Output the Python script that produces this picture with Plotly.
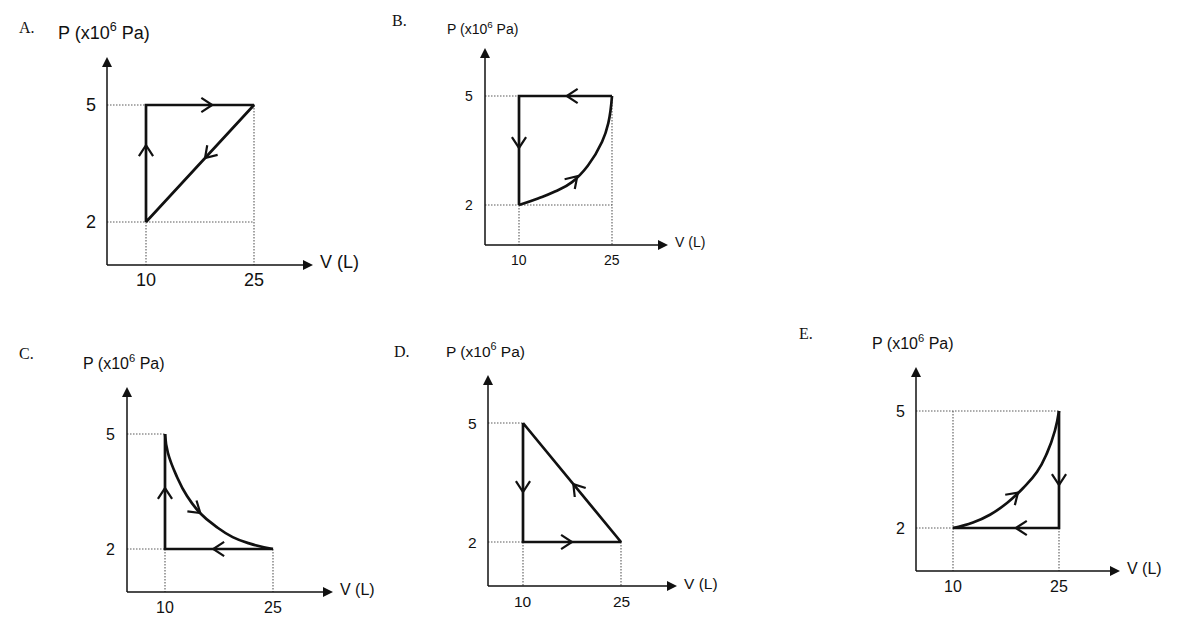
import math
import plotly.graph_objects as go

# ---------------- data ----------------
panel_letters = ["A.", "B.", "C.", "D.", "E."]
v_ticks = [10, 25]
p_ticks = [2, 5]
p_label = "P (x10<sup>6</sup> Pa)"
v_label = "V (L)"

# A: straight cycle
A_V = [10, 10, 25, 10]
A_P = [2, 5, 5, 2]
# B: straight part + curve
B_V = [25, 10, 10]
B_P = [5, 5, 2]
B_curve_V = [10, 13.06, 15.8, 18.55, 21.1, 23.4, 24.4, 25]
B_curve_P = [2, 2.18, 2.37, 2.63, 3.08, 3.74, 4.25, 5]
# C: straight part + curve
C_V = [25, 10, 10]
C_P = [2, 2, 5]
C_curve_V = [10, 10.4, 11.67, 13.06, 14.86, 17.2, 19.4, 21.8, 25]
C_curve_P = [5, 4.51, 3.88, 3.38, 2.94, 2.57, 2.31, 2.14, 2]
# D: straight cycle
D_V = [10, 10, 25, 10]
D_P = [5, 2, 2, 5]
# E: straight part + curve
E_V = [25, 25, 10]
E_P = [5, 2, 2]
E_curve_V = [10, 12.83, 15.23, 17.64, 19.9, 21.9, 23.3, 24.43, 25]
E_curve_P = [2, 2.14, 2.34, 2.64, 3.02, 3.44, 3.92, 4.50, 5]

# direction arrow tips (V, P)
A_arrows = [(10, 3.97), (19.2, 5), (18.2, 3.64)]
B_arrows = [(17.7, 5), (10, 3.57), (19.4, 2.79)]
C_arrows = [(10, 3.59), (14.9, 2.94), (16.7, 2)]
D_arrows = [(10, 3.26), (17.5, 2), (17.7, 3.46)]
E_arrows = [(25, 3.1), (18.9, 2), (19.2, 2.91)]

# dotted guides: horizontal (P, V_end) from the P axis; vertical (V, P_start) down to the V axis
A_hguides = [(5, 10), (2, 25)]
A_vguides = [(10, 2), (25, 5)]
B_hguides = [(5, 10), (2, 25)]
B_vguides = [(10, 2), (25, 5)]
C_hguides = [(5, 10), (2, 10)]
C_vguides = [(10, 2), (25, 2)]
D_hguides = [(5, 10), (2, 10)]
D_vguides = [(10, 2), (25, 2)]
E_hguides = [(5, 25), (2, 10)]
E_vguides = [(10, 5), (25, 2)]

# ---------------- layout (pixel geometry of each panel) ----------------
W, H = 1200, 630
LAYOUT = [
    dict(ox=107, oy=265, px10=146, px25=254, py2=222, py5=105, xend=313, ytop=57,
         letter=(27, 28), fs=18, pshift=25),
    dict(ox=485, oy=245, px10=519, px25=612, py2=205, py5=96, xend=668, ytop=48,
         letter=(399, 21), fs=14, pshift=20),
    dict(ox=127, oy=592, px10=165, px25=273, py2=549, py5=434, xend=333, ytop=387,
         letter=(26, 353), fs=16, pshift=25),
    dict(ox=488, oy=586, px10=523, px25=621, py2=542, py5=423, xend=677, ytop=375,
         letter=(402, 351), fs=15.5, pshift=25),
    dict(ox=916, oy=571, px10=953, px25=1059, py2=528, py5=411, xend=1120, ytop=367,
         letter=(806, 333), fs=16, pshift=25),
]

PANELS = [
    dict(pieces=[(A_V, A_P, "linear")], arrows=A_arrows, hg=A_hguides, vg=A_vguides),
    dict(pieces=[(B_V, B_P, "linear"), (B_curve_V, B_curve_P, "spline")], arrows=B_arrows,
         hg=B_hguides, vg=B_vguides),
    dict(pieces=[(C_V, C_P, "linear"), (C_curve_V, C_curve_P, "spline")], arrows=C_arrows,
         hg=C_hguides, vg=C_vguides),
    dict(pieces=[(D_V, D_P, "linear")], arrows=D_arrows, hg=D_hguides, vg=D_vguides),
    dict(pieces=[(E_V, E_P, "linear"), (E_curve_V, E_curve_P, "spline")], arrows=E_arrows,
         hg=E_hguides, vg=E_vguides),
]

SANS = "Liberation Sans, Arial, sans-serif"
SERIF = "Liberation Serif, Times New Roman, serif"
INK = "#111111"
GUIDE = "#5a5a5a"
LINE_W = 2.7
AXIS_W = 1.5
HEAD = 10
CHEV_LEN = 13
CHEV_ANG = math.radians(33)


def scales(s):
    sx = (s["px25"] - s["px10"]) / 15.0
    sy = (s["py2"] - s["py5"]) / 3.0
    return sx, sy


def v_of(s, px):
    sx, _ = scales(s)
    return 10 + (px - s["px10"]) / sx


def p_of(s, py):
    _, sy = scales(s)
    return 2 + (s["py2"] - py) / sy


def to_px(s, v, p):
    sx, sy = scales(s)
    return s["px10"] + (v - 10) * sx, s["py2"] - (p - 2) * sy


def chevron(s, pieces, tv, tp):
    tx, ty = to_px(s, tv, tp)
    best = None
    for V, P, _ in pieces:
        pts = [to_px(s, v, p) for v, p in zip(V, P)]
        for (x1, y1), (x2, y2) in zip(pts[:-1], pts[1:]):
            dx, dy = x2 - x1, y2 - y1
            l2 = dx * dx + dy * dy
            if l2 == 0:
                continue
            t = max(0.0, min(1.0, ((tx - x1) * dx + (ty - y1) * dy) / l2))
            d = (x1 + t * dx - tx) ** 2 + (y1 + t * dy - ty) ** 2
            if best is None or d < best[0]:
                best = (d, dx, dy)
    _, dx, dy = best
    n = math.hypot(dx, dy)
    ux, uy = dx / n, dy / n
    out = []
    for sgn in (1, -1):
        c, sn = math.cos(CHEV_ANG), math.sin(sgn * CHEV_ANG)
        rx, ry = ux * c - uy * sn, ux * sn + uy * c
        ax, ay = tx - CHEV_LEN * rx, ty - CHEV_LEN * ry
        out.append((v_of(s, ax), p_of(s, ay)))
    return [out[0], (tv, tp), out[1]]


fig = go.Figure()
annotations = []
layout_axes = {}

for i, (s, pd) in enumerate(zip(LAYOUT, PANELS)):
    k = "" if i == 0 else str(i + 1)
    xa, ya = "x" + k, "y" + k
    x_lo_px, x_hi_px = s["ox"] - 30, s["xend"] + 10
    y_lo_px, y_hi_px = s["oy"] + 30, s["ytop"] - 10
    layout_axes["xaxis" + k] = dict(
        domain=[x_lo_px / W, x_hi_px / W], range=[v_of(s, x_lo_px), v_of(s, x_hi_px)],
        anchor=ya, visible=False, fixedrange=True)
    layout_axes["yaxis" + k] = dict(
        domain=[1 - y_lo_px / H, 1 - y_hi_px / H], range=[p_of(s, y_lo_px), p_of(s, y_hi_px)],
        anchor=xa, visible=False, fixedrange=True)

    v0 = v_of(s, s["ox"])
    p0 = p_of(s, s["oy"])
    v_end = v_of(s, s["xend"])
    p_top = p_of(s, s["ytop"])

    # dotted guides
    gx, gy = [], []
    for p, vend in pd["hg"]:
        gx += [v0, vend, None]
        gy += [p, p, None]
    for v, pstart in pd["vg"]:
        gx += [v, v, None]
        gy += [pstart, p0, None]
    fig.add_trace(go.Scatter(x=gx, y=gy, mode="lines", xaxis=xa, yaxis=ya,
                             line=dict(color=GUIDE, width=1.1, dash="1.5px,1.5px"),
                             hoverinfo="skip"))

    # axes lines with arrow heads (tip of 'arrow-*' symbols sits on the point)
    v_base = v_of(s, s["xend"] - HEAD + 1)
    p_base = p_of(s, s["ytop"] + HEAD - 1)
    fig.add_trace(go.Scatter(x=[v0, v_base, None, v0, v0], y=[p0, p0, None, p0, p_base],
                             mode="lines", xaxis=xa, yaxis=ya,
                             line=dict(color=INK, width=AXIS_W), hoverinfo="skip"))
    fig.add_trace(go.Scatter(x=[v_end, v0], y=[p0, p_top], mode="markers", xaxis=xa, yaxis=ya,
                             marker=dict(symbol=["arrow-right", "arrow-up"], size=HEAD,
                                         color=INK, line=dict(width=0)),
                             cliponaxis=False, hoverinfo="skip"))

    # cycle path
    for V, P, shape in pd["pieces"]:
        fig.add_trace(go.Scatter(x=V, y=P, mode="lines", xaxis=xa, yaxis=ya,
                                 line=dict(color=INK, width=LINE_W, shape=shape,
                                           smoothing=1.3 if shape == "spline" else None),
                                 hoverinfo="skip"))

    # direction chevrons
    cx, cy = [], []
    for tv, tp in pd["arrows"]:
        for v, p in chevron(s, pd["pieces"], tv, tp):
            cx.append(v)
            cy.append(p)
        cx.append(None)
        cy.append(None)
    fig.add_trace(go.Scatter(x=cx, y=cy, mode="lines", xaxis=xa, yaxis=ya,
                             line=dict(color=INK, width=2.2), hoverinfo="skip"))

    font = dict(family=SANS, size=s["fs"], color=INK)
    for v in v_ticks:
        annotations.append(dict(x=v, y=p0, xref=xa, yref=ya, text=str(v), showarrow=False,
                                xanchor="center", yanchor="middle", yshift=-15, font=font))
    for p in p_ticks:
        annotations.append(dict(x=v0, y=p, xref=xa, yref=ya, text=str(p), showarrow=False,
                                xanchor="center", yanchor="middle", xshift=-16, font=font))
    annotations.append(dict(x=v_end, y=p0, xref=xa, yref=ya, text=v_label, showarrow=False,
                            xanchor="left", yanchor="middle", xshift=5, yshift=3, font=font))
    annotations.append(dict(x=v0, y=p_top, xref=xa, yref=ya, text=p_label, showarrow=False,
                            xanchor="center", yanchor="middle", xshift=-3, yshift=s["pshift"],
                            font=font))
    lx, ly = s["letter"]
    annotations.append(dict(x=lx / W, y=1 - ly / H, xref="paper", yref="paper",
                            text=panel_letters[i], showarrow=False, xanchor="center",
                            yanchor="middle", font=dict(family=SERIF, size=16, color=INK)))

fig.update_layout(
    width=W, height=H, margin=dict(l=0, r=0, t=0, b=0),
    paper_bgcolor="white", plot_bgcolor="white", showlegend=False,
    annotations=annotations, **layout_axes)

fig.write_html("out.html", config={"displayModeBar": False},
               post_script="document.body.style.margin='0px';")
